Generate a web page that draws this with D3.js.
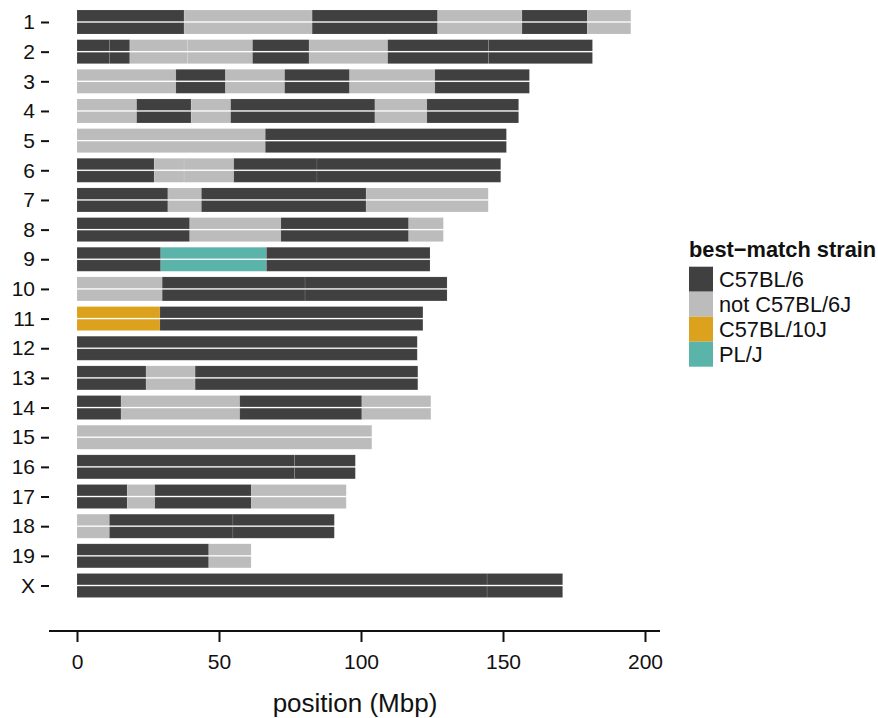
<!DOCTYPE html>
<html>
<head>
<meta charset="utf-8">
<script src="https://cdn.jsdelivr.net/npm/d3@7"></script>
<style>
html,body{margin:0;padding:0;background:#fff;}
text{font-family:"Liberation Sans",Arial,Helvetica,sans-serif;}
</style>
</head>
<body>
<svg id="chart" width="878" height="718"></svg>
<script>
// ---- data ----
const chromosomes = ["1","2","3","4","5","6","7","8","9","10","11","12","13","14","15","16","17","18","19","X"];
const strains = ["C57BL/6","not C57BL/6J","C57BL/10J","PL/J"];
const strainColors = ["#404040","#bcbcbc","#dca21e","#5bb4aa"];
// segments: [chromosome, start (Mbp), end (Mbp), strain index]
const segments = [
  ["1",0,37.7,0],["1",37.7,82.8,1],["1",82.8,127.0,0],["1",127.0,156.7,1],["1",156.7,179.7,0],["1",179.7,195.0,1],
  ["2",0,11.4,0],["2",11.4,18.6,0],["2",18.6,38.9,1],["2",38.9,61.8,1],["2",61.8,81.7,0],["2",81.7,109.4,1],["2",109.4,144.9,0],["2",144.9,181.5,0],
  ["3",0,34.8,1],["3",34.8,52.3,0],["3",52.3,73.1,1],["3",73.1,96.0,0],["3",96.0,126.0,1],["3",126.0,159.3,0],
  ["4",0,21.0,1],["4",21.0,40.2,0],["4",40.2,54.1,1],["4",54.1,104.9,0],["4",104.9,123.2,1],["4",123.2,155.5,0],
  ["5",0,66.3,1],["5",66.3,151.2,0],
  ["6",0,27.2,0],["6",27.2,37.7,1],["6",37.7,55.2,1],["6",55.2,84.5,0],["6",84.5,149.2,0],
  ["7",0,32.0,0],["7",32.0,43.8,1],["7",43.8,101.8,0],["7",101.8,144.8,1],
  ["8",0,39.7,0],["8",39.7,71.8,1],["8",71.8,116.8,0],["8",116.8,129.0,1],
  ["9",0,29.5,0],["9",29.5,66.7,3],["9",66.7,124.3,0],
  ["10",0,30.0,1],["10",30.0,80.3,0],["10",80.3,130.3,0],
  ["11",0,29.2,2],["11",29.2,121.8,0],
  ["12",0,119.8,0],
  ["13",0,24.3,0],["13",24.3,41.6,1],["13",41.6,120.0,0],
  ["14",0,15.5,0],["14",15.5,57.3,1],["14",57.3,100.3,0],["14",100.3,124.6,1],
  ["15",0,103.8,1],
  ["16",0,76.6,0],["16",76.6,98.0,0],
  ["17",0,17.7,0],["17",17.7,27.4,1],["17",27.4,61.4,0],["17",61.4,94.8,1],
  ["18",0,11.4,1],["18",11.4,54.9,0],["18",54.9,90.6,0],
  ["19",0,46.4,0],["19",46.4,61.3,1],
  ["X",0,144.4,0],["X",144.4,171.0,0]
];
const haplotypes = [0,1];
const xTicks = [0,50,100,150,200];
const xTitle = "position (Mbp)";
const legendTitle = "best\u2212match strain";

// ---- drawing ----
const svg = d3.select("#chart");
const panel = {left:49, right:660, top:2, bottom:631};

const x = d3.scaleLinear().domain([0,200]).range([77,645]);
const y = d3.scalePoint().domain(chromosomes).range([22,585.5]);
const hapY = d3.scaleBand().domain(haplotypes).range([-12,12]).paddingInner(0.1);

const g = svg.append("g");
haplotypes.forEach(h => {
  g.selectAll(null).data(segments).enter().append("rect")
    .attr("x", d => x(d[1]))
    .attr("width", d => x(d[2]) - x(d[1]))
    .attr("y", d => y(d[0]) + hapY(h))
    .attr("height", hapY.bandwidth())
    .attr("fill", d => strainColors[d[3]])
    .attr("stroke", "rgba(255,255,255,0.12)")
    .attr("stroke-width", 0.8);
});

// y axis (ticks + labels only)
const yAxis = d3.axisLeft(y).tickSize(8).tickPadding(6);
const yg = svg.append("g").attr("transform", `translate(${panel.left},0)`).call(yAxis);
yg.select(".domain").remove();
yg.selectAll(".tick line").attr("stroke","#111").attr("stroke-width",2);
yg.selectAll(".tick text").attr("font-size",21).attr("fill","#111")
  .attr("font-family","Liberation Sans, Arial, sans-serif");

// x axis
const xAxis = d3.axisBottom(x).tickValues(xTicks).tickSize(11).tickPadding(12).tickSizeOuter(0);
const xg = svg.append("g").attr("transform", `translate(0,${panel.bottom})`).call(xAxis);
xg.select(".domain").attr("d", `M${panel.left},0H${panel.right}`).attr("stroke","#111").attr("stroke-width",2);
xg.selectAll(".tick line").attr("stroke","#111").attr("stroke-width",2);
xg.selectAll(".tick text").attr("font-size",21).attr("fill","#111")
  .attr("font-family","Liberation Sans, Arial, sans-serif");

svg.append("text")
  .attr("x", (x(0)+x(200))/2 - 6).attr("y", 712)
  .attr("text-anchor","middle").attr("font-size",26).attr("fill","#111")
  .text(xTitle);

// legend
const lg = svg.append("g").attr("transform","translate(689,0)");
lg.append("text").attr("x",0).attr("y",256.5).attr("font-size",21.8).attr("font-weight","bold").attr("fill","#111").text(legendTitle);
const keyY = d3.scaleBand().domain(strains).range([266.7,366.7]);
lg.selectAll(null).data(strains).enter().append("rect")
  .attr("x",0).attr("y",d=>keyY(d)).attr("width",24).attr("height",keyY.bandwidth())
  .attr("fill",(d,i)=>strainColors[i]);
lg.selectAll(null).data(strains).enter().append("text")
  .attr("x",30).attr("y",d=>keyY(d)+keyY.bandwidth()/2).attr("dy","0.35em")
  .attr("font-size",21.8).attr("fill","#111").text(d=>d);
</script>
</body>
</html>
